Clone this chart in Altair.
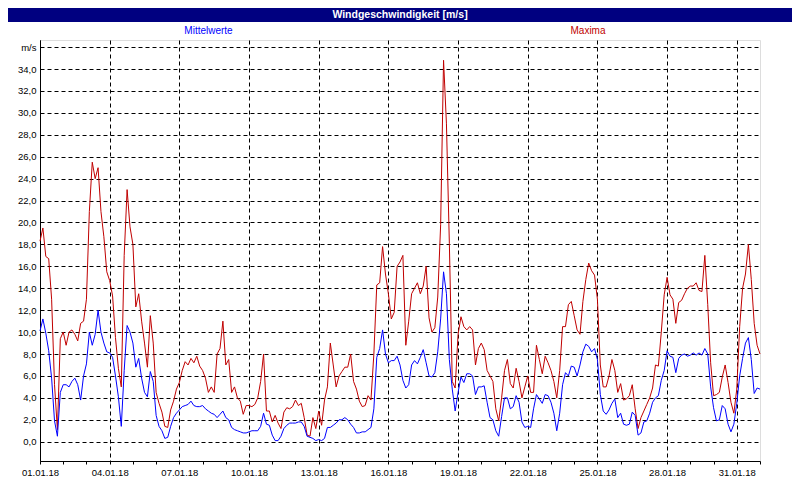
import altair as alt
import pandas as pd

# 3-hourly readings, 01.01.18 00:00 ... 01.02.18 00:00
mittelwerte = [
    10.1, 11.2, 9.9, 8.3, 5.8, 1.9, 0.5, 4.5,
    5.2, 5.2, 5.0, 5.5, 5.8, 5.2, 3.8, 6.0,
    7.1, 10.0, 8.8, 9.8, 12.0, 10.0, 9.0, 8.2,
    8.1, 7.7, 6.0, 4.1, 1.4, 6.5, 10.6, 10.0,
    9.0, 6.8, 7.6, 5.8, 4.5, 4.1, 6.4, 5.5,
    2.4, 1.4, 1.0, 0.3, 0.4, 1.4, 2.2, 2.6,
    2.9, 3.2, 3.3, 3.4, 3.7, 3.3, 3.2, 3.2,
    3.3, 3.0, 2.8, 2.6, 2.5, 2.2, 2.5, 2.8,
    2.2, 2.0, 1.3, 1.1, 1.0, 0.9, 0.8, 0.8,
    0.9, 1.0, 1.0, 1.0, 1.4, 2.6, 1.6, 1.5,
    0.6, 0.1, 0.1, 0.5, 1.2, 1.5, 1.7, 1.7,
    1.7, 1.8, 1.8, 1.4, 0.5, 0.4, 0.3, 0.1,
    0.2, 0.1, 0.3, 1.3, 1.3, 1.5, 1.7, 2.0,
    2.0, 2.2, 2.0, 1.6, 1.3, 0.8, 0.8, 0.9,
    0.9, 1.1, 1.3, 3.0, 7.7, 8.5, 10.2, 8.0,
    7.2, 7.4, 7.4, 7.8, 7.0, 5.6, 4.9, 5.2,
    7.0, 7.4, 7.1, 7.7, 8.4, 7.2, 6.0, 5.9,
    6.3, 8.2, 11.2, 15.5, 13.5, 7.5, 4.8, 2.8,
    4.5, 5.9, 5.4, 6.2, 6.2, 6.0, 4.3, 5.0,
    5.0, 5.1, 3.6, 2.2, 2.0, 1.0, 0.5, 2.3,
    4.0, 4.0, 3.0, 3.2, 4.2, 3.6, 1.8, 1.3,
    1.4, 1.3, 3.0, 4.3, 3.9, 3.5, 4.3, 4.2,
    3.6, 2.6, 1.0, 2.6, 5.2, 6.3, 6.0, 6.9,
    6.8, 6.0, 7.0, 8.2, 8.9, 8.7, 8.2, 8.5,
    7.5, 4.3, 2.8, 2.5, 2.9, 3.5, 3.9, 2.2,
    2.6, 1.6, 1.5, 1.6, 2.7, 2.4, 0.6, 0.8,
    1.8, 1.9, 2.6, 3.6, 4.0, 4.2, 5.6, 6.5,
    8.3, 7.8, 7.7, 6.3, 7.6, 7.9, 8.0, 7.8,
    7.9, 8.1, 7.9, 8.1, 7.9, 8.5, 8.0, 5.0,
    3.1, 1.9, 2.0, 3.3, 3.0, 1.6, 0.9, 1.6,
    3.5, 6.0, 7.6, 9.0, 9.5, 7.5, 4.4, 4.9,
    4.8,
]

maxima = [
    18.3, 19.5, 16.9, 16.7, 13.0, 5.2, 1.1, 9.4,
    10.0, 8.8, 10.0, 10.2, 9.8, 9.2, 10.8, 11.0,
    13.0, 21.0, 25.5, 24.0, 25.0, 21.0, 18.7, 15.5,
    14.7, 13.3, 9.5, 6.7, 5.0, 17.0, 23.0, 19.6,
    18.0, 12.3, 13.5, 11.0, 9.0, 6.8, 11.5, 9.0,
    4.5, 3.5, 2.7, 1.4, 1.3, 2.9, 3.7, 4.8,
    5.4, 6.5, 7.3, 7.0, 7.6, 7.2, 7.8, 6.9,
    6.5, 5.8, 4.5, 5.0, 4.5, 8.0, 8.5, 11.0,
    7.0, 7.5, 4.5, 5.0, 4.0, 3.7, 2.5, 3.3,
    3.3, 3.2, 3.4, 4.0, 5.5, 8.0, 2.8, 2.8,
    1.8, 2.4, 1.7, 1.2, 2.7, 3.1, 3.0, 3.2,
    3.8, 3.3, 3.5, 2.2, 0.6, 0.5, 2.2, 1.2,
    2.8, 1.5, 3.8, 5.0, 9.0, 7.0, 5.0, 6.0,
    6.4, 6.8, 6.8, 8.0, 5.5, 4.8, 3.7, 3.2,
    3.3, 4.2, 3.8, 8.0, 14.3, 14.5, 17.8, 15.3,
    13.5, 11.2, 11.8, 16.0, 16.4, 17.0, 8.8, 11.0,
    13.5, 14.0, 14.5, 13.5, 14.2, 16.0, 11.3, 10.0,
    10.4, 13.2, 19.8, 34.8, 29.0, 18.1, 5.5, 4.9,
    9.8, 11.4, 10.5, 10.2, 10.5, 10.2, 7.0, 8.5,
    9.0, 8.4, 6.5, 6.0, 5.5, 3.0, 1.9, 4.0,
    6.5, 7.5, 5.3, 4.9, 6.7, 5.5, 4.0, 5.0,
    6.0, 4.5, 4.5, 8.8, 7.5, 6.2, 7.8, 7.2,
    6.5, 5.5, 4.0, 6.5, 10.5, 10.5, 12.5, 12.8,
    11.5, 10.2, 9.8, 12.8, 14.8, 16.3, 15.6, 15.2,
    13.0, 7.0, 5.0, 5.0, 6.0, 7.5, 6.5, 4.5,
    5.3, 3.8, 3.9, 4.2, 5.2, 3.0, 1.2, 2.2,
    2.8, 3.4, 4.0, 4.9, 7.0, 6.9, 10.0, 13.4,
    15.0, 13.4, 13.0, 10.8, 12.7, 12.9, 13.5, 14.0,
    14.2, 14.2, 14.5, 13.8, 13.7, 17.0, 12.5, 7.2,
    4.2, 4.3, 4.5, 5.9, 7.0, 5.4, 3.6, 2.6,
    4.8, 10.5, 14.0, 15.3, 18.0, 14.8, 10.8, 8.8,
    8.0,
]

y_ticks = [0, 2, 4, 6, 8, 10, 12, 14, 16, 18, 20, 22, 24, 26, 28, 30, 32, 34, 36]
title_text = ["Windgeschwindigkeit [m/s]"]
series_names = ["Mittelwerte", "Maxima"]

BASE_MS = 1514764800000  # 2018-01-01T00:00Z
DAY_MS = 86400000
STEP_MS = 3 * 3600000

n = min(len(mittelwerte), len(maxima))
df = pd.DataFrame({
    "t": [BASE_MS + STEP_MS * i for i in range(n)],
    "Mittelwerte": mittelwerte[:n],
    "Maxima": maxima[:n],
})
x_ticks = [BASE_MS + DAY_MS * d for d in range(32)]

FONT = "Liberation Sans"
day_test = "round((datum.value - 1514764800000) / 86400000) % 3 == 0"

x_axis = alt.Axis(
    values=x_ticks,
    labelExpr=f"({day_test}) ? utcFormat(datum.value, '%d.%m.%y') : ''",
    tickSize=3, tickColor="black", domainColor="black",
    labelColor="black", labelFont=FONT, labelFontSize=9.5,
    labelPadding=3, labelFlush=False, labelOverlap=False,
    grid=True, gridColor="black", gridDash=[4, 3], gridWidth=1,
    gridOpacity={"condition": {"test": day_test, "value": 1}, "value": 0},
    title=None,
)
y_axis = alt.Axis(
    values=y_ticks,
    labelExpr="datum.value >= 35.9 ? 'm/s' : replace(format(datum.value, '.1f'), '.', ',')",
    ticks=False, labelPadding=4, domainColor="black",
    labelColor="black", labelFont=FONT, labelFontSize=9.5,
    grid=True, gridColor="black", gridDash=[4, 3], gridWidth=1,
    title=None,
)
x_enc = alt.X("t:T", scale=alt.Scale(type="utc", domain=[BASE_MS, BASE_MS + 31 * DAY_MS]), axis=x_axis)
y_scale = alt.Scale(domain=[-1.76, 36.65], nice=False, zero=False)

red_line = alt.Chart(df).mark_line(color="#c00000", strokeWidth=1).encode(
    x=x_enc, y=alt.Y("Maxima:Q", scale=y_scale, axis=y_axis)
)
blue_line = alt.Chart(df).mark_line(color="#0000ff", strokeWidth=1).encode(
    x=x_enc, y=alt.Y("Mittelwerte:Q", scale=y_scale, axis=y_axis)
)

tdf = pd.DataFrame({"text": title_text})
bar = alt.Chart(tdf).mark_rect(color="#000080").encode(
    x=alt.value(-32), x2=alt.value(752), y=alt.value(-32), y2=alt.value(-18)
)
ttl = alt.Chart(tdf).mark_text(
    color="white", font=FONT, fontWeight="bold", fontSize=10.5, align="center", baseline="middle"
).encode(x=alt.value(360), y=alt.value(-25), text="text:N")

leg1 = alt.Chart(pd.DataFrame({"label": [series_names[0]]})).mark_text(
    color="#0000ff", font=FONT, fontSize=10, align="center", baseline="middle"
).encode(x=alt.value(168.5), y=alt.value(-9), text="label:N")
leg2 = alt.Chart(pd.DataFrame({"label": [series_names[1]]})).mark_text(
    color="#c00000", font=FONT, fontSize=10, align="center", baseline="middle"
).encode(x=alt.value(548), y=alt.value(-9), text="label:N")

chart = alt.layer(bar, ttl, leg1, leg2, red_line, blue_line).properties(
    width=720, height=421,
    autosize=alt.AutoSizeParams(type="none"),
    padding={"left": 32, "top": 32, "right": 32, "bottom": 25},
    background="white",
).configure_view(stroke="black", strokeWidth=1).configure(font=FONT)

chart.save("out.html", embed_options={"renderer": "svg", "actions": False})
